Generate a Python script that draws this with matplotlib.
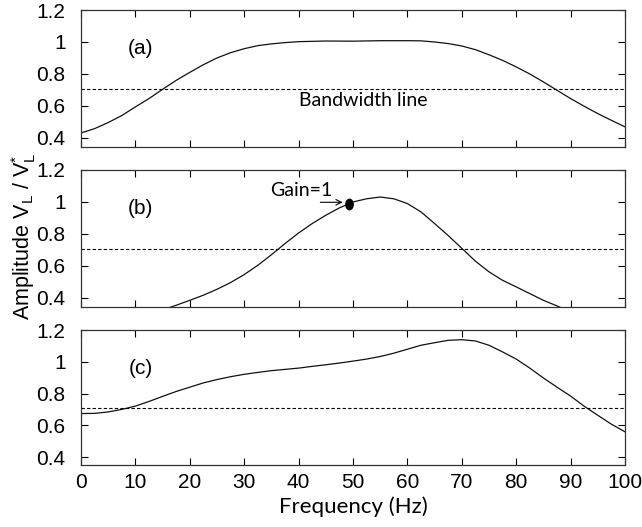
import matplotlib
matplotlib.use("Agg")
import matplotlib.pyplot as plt
from matplotlib.ticker import FuncFormatter
from matplotlib.markers import MarkerStyle
from matplotlib.transforms import Affine2D

plt.rcParams["font.family"] = ["Liberation Sans", "DejaVu Sans"]

# ---- data ----
freq_a = [0, 2.5, 5, 7.5, 10, 12.5, 15, 17.5, 20, 22.5, 25, 27.5, 30, 32.5, 35, 37.5, 40,
          45, 50, 55, 60, 62.5, 65, 67.5, 70, 72.5, 75, 77.5, 80, 82.5, 85, 87.5, 90,
          92.5, 95, 97.5, 100]
amp_a = [0.431, 0.458, 0.496, 0.54, 0.594, 0.646, 0.704, 0.76, 0.81, 0.858, 0.90, 0.933,
         0.958, 0.977, 0.988, 0.996, 1.002, 1.006, 1.005, 1.008, 1.008, 1.007, 1.0, 0.99,
         0.975, 0.952, 0.92, 0.885, 0.844, 0.80, 0.75, 0.698, 0.646, 0.598, 0.552, 0.51,
         0.469]

freq_b = [15, 17.5, 20, 22.5, 25, 27.5, 30, 32.5, 35, 37.5, 40, 42.5, 45, 47.5, 50, 52.5,
          55, 57.5, 60, 62.5, 65, 67.5, 70, 72.5, 75, 77.5, 80, 82.5, 85, 87.5, 90]
amp_b = [0.325, 0.354, 0.385, 0.417, 0.454, 0.496, 0.546, 0.604, 0.67, 0.74, 0.806, 0.865,
         0.917, 0.963, 1.0, 1.02, 1.031, 1.02, 0.99, 0.938, 0.865, 0.79, 0.71, 0.63, 0.563,
         0.51, 0.469, 0.427, 0.385, 0.35, 0.31]

freq_c = [0, 2.5, 5, 7.5, 10, 12.5, 15, 17.5, 20, 22.5, 25, 27.5, 30, 32.5, 35, 37.5, 40,
          42.5, 45, 47.5, 50, 52.5, 55, 57.5, 60, 62.5, 65, 67.5, 70, 72.5, 75, 77.5, 80,
          82.5, 85, 87.5, 90, 92.5, 95, 97.5, 100]
amp_c = [0.674, 0.675, 0.684, 0.70, 0.721, 0.75, 0.782, 0.813, 0.84, 0.867, 0.888, 0.906,
         0.921, 0.933, 0.944, 0.952, 0.96, 0.971, 0.981, 0.992, 1.004, 1.017, 1.033, 1.054,
         1.079, 1.104, 1.12, 1.135, 1.139, 1.131, 1.104, 1.062, 1.017, 0.96, 0.898, 0.84,
         0.784, 0.72, 0.663, 0.607, 0.559]

bandwidth_level = 0.707
gain_point = (49.3, 0.99)
panel_labels = ["(a)", "(b)", "(c)"]
x_ticks = [0, 10, 20, 30, 40, 50, 60, 70, 80, 90, 100]
y_ticks = [0.4, 0.6, 0.8, 1.0, 1.2]

fig = plt.figure(figsize=(6.42, 5.27), dpi=100)
left, width = 81 / 642, 544 / 642
boxes = [(10, 146.7), (170, 306.7), (330, 465)]
series = [(freq_a, amp_a), (freq_b, amp_b), (freq_c, amp_c)]
ylims = [(0.345, 1.2), (0.345, 1.2), (0.35, 1.2)]

axes = []
for i, ((top, bot), (fx, fy), lab) in enumerate(zip(boxes, series, panel_labels)):
    ax = fig.add_axes([left, 1 - bot / 527, width, (bot - top) / 527])
    ax.plot(fx, fy, color="#111111", lw=0.9)
    ax.axhline(bandwidth_level, color="black", lw=0.8, ls=(0, (3, 2)))
    ax.set_xlim(0, 100)
    ax.set_ylim(*ylims[i])
    ax.set_xticks(x_ticks)
    ax.set_yticks(y_ticks)
    ax.yaxis.set_major_formatter(FuncFormatter(lambda v, p: f"{v:g}"))
    ax.tick_params(direction="in", top=True, right=True, length=5, width=0.8,
                   labelsize=15)
    ax.tick_params(axis="y", pad=11)
    ax.tick_params(axis="x", pad=6)
    if i < 2:
        ax.tick_params(labelbottom=False)
    for s in ax.spines.values():
        s.set_linewidth(0.9)
        s.set_color("#333333")
    ax.text(11, 0.96, lab, ha="center", va="center", fontsize=15)
    axes.append(ax)

axes[0].text(51.8, 0.636, "Bandwidth line", ha="center", va="center", fontsize=14,
             family=["Lato", "DejaVu Sans"])

axb = axes[1]
dot = MarkerStyle("o", transform=Affine2D().scale(0.7, 1.0))
axb.plot([gain_point[0]], [gain_point[1]], marker=dot, color="black",
         markersize=7.5, linestyle="none")
axb.annotate("", xy=(gain_point[0] - 1.2, gain_point[1] + 0.008),
             xytext=(gain_point[0] - 5.3, gain_point[1] + 0.008),
             arrowprops=dict(arrowstyle="->", color="black", lw=0.8,
                             shrinkA=0, shrinkB=0))
axb.text(gain_point[0] - 8.9, gain_point[1] + 0.083, "Gain=1", ha="center", va="center",
         fontsize=14, family=["Lato", "DejaVu Sans"])

axes[2].set_xlabel("Frequency (Hz)", fontsize=16, family=["Lato", "DejaVu Sans"],
                   labelpad=3)

fig.text(24 / 642, 1 - 236 / 527,
         r"Amplitude V$_\mathregular{L}$ / V$_\mathregular{L}^\mathregular{*}$",
         rotation=90, ha="center", va="center", fontsize=15.5)

fig.savefig("out.png", dpi=100)
